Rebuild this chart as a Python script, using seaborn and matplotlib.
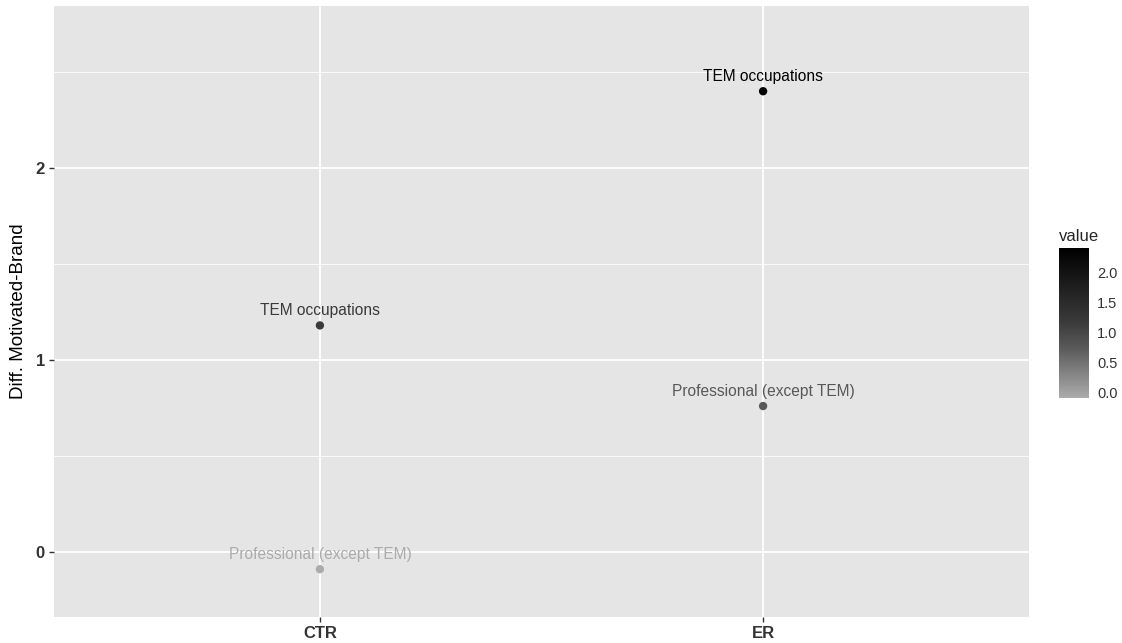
import numpy as np
import pandas as pd
import matplotlib
matplotlib.use("Agg")
import matplotlib.pyplot as plt
import seaborn as sns
from matplotlib.colors import LinearSegmentedColormap, Normalize
from matplotlib.cm import ScalarMappable
from matplotlib.ticker import MultipleLocator

# data
groups = ["CTR", "CTR", "ER", "ER"]
occupations = ["TEM occupations", "Professional (except TEM)",
               "TEM occupations", "Professional (except TEM)"]
diff = [1.18, -0.09, 2.40, 0.76]
cbar_ticks = [0.0, 0.5, 1.0, 1.5, 2.0]

df = pd.DataFrame({"group": groups, "occupation": occupations, "value": diff})

# grey gradient, light grey -> black, darkening quickly in the middle
cmap = LinearSegmentedColormap.from_list(
    "grey_grad", [(0.0, "#ABABAB"), (0.34, "#585858"), (0.51, "#3A3A3A"), (1.0, "#000000")])
norm = Normalize(min(diff), max(diff))

sns.set_theme(style="darkgrid", rc={
    "axes.facecolor": "#E5E5E5",
    "grid.color": "white",
    "figure.facecolor": "white",
})
plt.rcParams["font.family"] = ["Liberation Sans", "DejaVu Sans"]

fig = plt.figure(figsize=(11.22, 6.43), dpi=100)
ax = fig.add_axes([54 / 1122, 1 - 617 / 643, (1029 - 54) / 1122, (617 - 6) / 643])

sns.scatterplot(data=df, x="group", y="value", hue="value", palette=cmap,
                hue_norm=norm, s=36, linewidth=0, legend=False, ax=ax, zorder=3)

xpos = {g: i for i, g in enumerate(dict.fromkeys(groups))}
for g, occ, v in zip(groups, occupations, diff):
    ax.annotate(occ, (xpos[g], v), xytext=(0, 10.5), textcoords="offset points",
                ha="center", va="center", color=cmap(norm(v)), fontsize=11.2)

ax.set_xlim(-0.6, 1.6)
ax.set_ylim(-0.339, 2.844)
ax.set_yticks([0, 1, 2])
ax.yaxis.set_minor_locator(MultipleLocator(0.5))
ax.grid(which="major", color="white", linewidth=1.3)
ax.grid(which="minor", axis="y", color="white", linewidth=0.6)
ax.grid(which="minor", axis="x", visible=False)
for s in ax.spines.values():
    s.set_visible(False)
ax.tick_params(axis="both", which="major", length=3.5, width=1, color="#333333",
               labelsize=12, labelcolor="#333333", pad=3, left=True, bottom=True)
ax.tick_params(which="minor", length=0)
for lab in ax.get_xticklabels() + ax.get_yticklabels():
    lab.set_fontweight("bold")
ax.set_xlabel("")
ax.set_ylabel("Diff. Motivated-Brand", fontsize=13.5, color="black", labelpad=6)

# colour bar legend
cax = fig.add_axes([1059 / 1122, 1 - 398 / 643, 30 / 1122, 150 / 643])
cb = fig.colorbar(ScalarMappable(norm=norm, cmap=cmap), cax=cax)
cb.outline.set_visible(False)
cb.set_ticks(cbar_ticks)
cb.set_ticklabels([f"{t:.1f}" for t in cbar_ticks])
cax.yaxis.set_ticks_position("both")
cax.tick_params(axis="y", direction="in", length=5, width=1, color="white",
                labelsize=10.5, labelcolor="#333333", pad=6,
                left=True, right=True, labelleft=False, labelright=True)
cax.set_title("value", loc="left", fontsize=12, pad=5)

fig.savefig("out.png", dpi=100)
